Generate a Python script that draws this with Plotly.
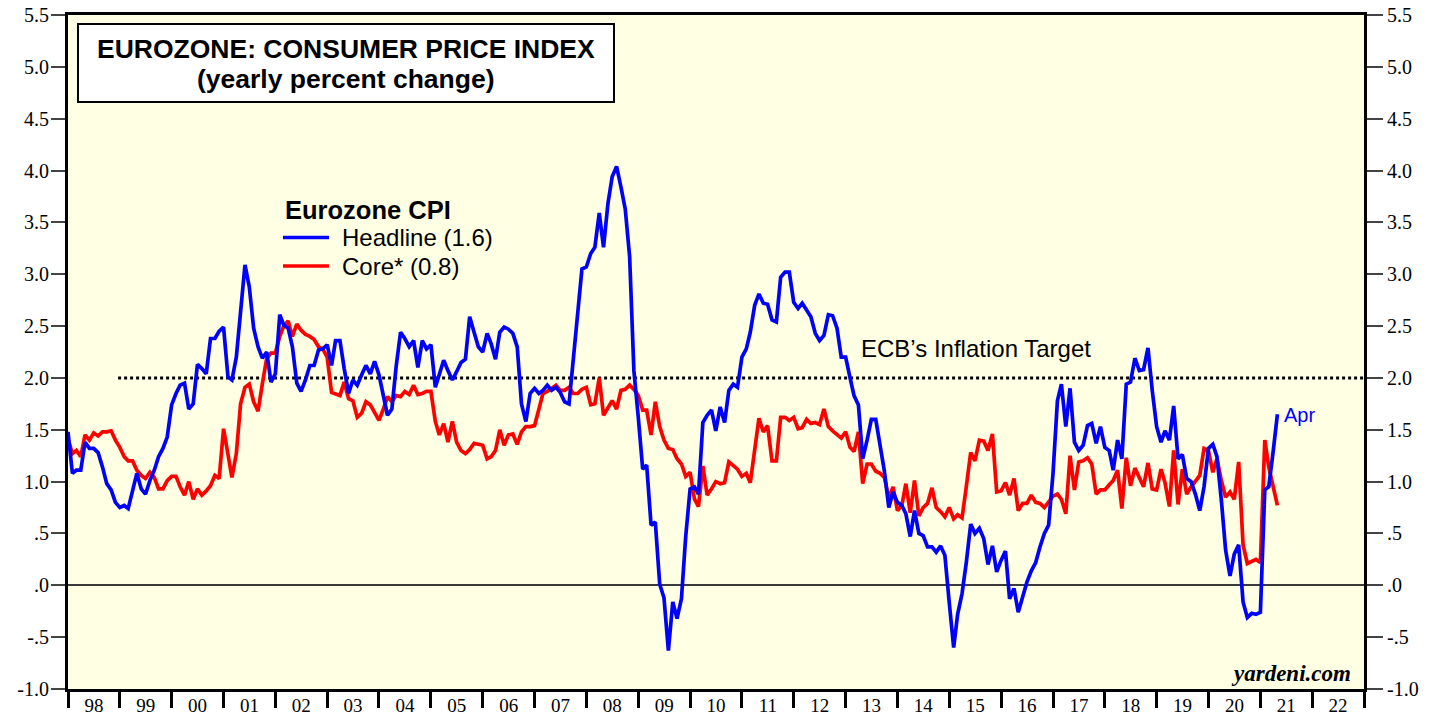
import pandas as pd
import plotly.graph_objects as go

# ---------------- data (monthly, Dec 1997 .. Apr 2021, yearly % change) ----------------
start_month = "1997-12"
headline = [
    1.48,
    1.08, 1.11, 1.11, 1.38, 1.32, 1.32, 1.28, 1.14, 0.98, 0.92, 0.80, 0.75,   # 1998
    0.77, 0.74, 0.93, 1.08, 0.93, 0.88, 1.01, 1.11, 1.24, 1.32, 1.43, 1.74,   # 1999
    1.85, 1.93, 1.95, 1.70, 1.75, 2.13, 2.09, 2.04, 2.38, 2.38, 2.45, 2.49,   # 2000
    2.01, 1.98, 2.20, 2.65, 3.09, 2.88, 2.48, 2.30, 2.19, 2.25, 1.96, 2.04,   # 2001
    2.61, 2.51, 2.48, 2.30, 1.95, 1.87, 1.98, 2.12, 2.12, 2.27, 2.28, 2.32,   # 2002
    2.12, 2.36, 2.36, 2.09, 1.85, 1.98, 1.93, 2.03, 2.12, 2.04, 2.16, 2.03,   # 2003
    1.83, 1.64, 1.70, 2.11, 2.44, 2.38, 2.30, 2.36, 2.10, 2.36, 2.28, 2.32,   # 2004
    1.91, 2.04, 2.17, 2.07, 1.98, 2.06, 2.15, 2.18, 2.59, 2.44, 2.30, 2.25,   # 2005
    2.43, 2.33, 2.18, 2.44, 2.49, 2.47, 2.43, 2.30, 1.75, 1.58, 1.85, 1.90,   # 2006
    1.85, 1.88, 1.93, 1.88, 1.91, 1.86, 1.77, 1.75, 2.17, 2.59, 3.05, 3.07,   # 2007
    3.20, 3.26, 3.59, 3.26, 3.68, 3.94, 4.04, 3.84, 3.63, 3.17, 2.07, 1.62,   # 2008
    1.12, 1.16, 0.58, 0.61, 0.01, -0.12, -0.63, -0.16, -0.32, -0.13, 0.47, 0.93,  # 2009
    0.95, 0.88, 1.57, 1.64, 1.69, 1.49, 1.72, 1.57, 1.88, 1.94, 1.91, 2.20,   # 2010
    2.28, 2.44, 2.70, 2.81, 2.72, 2.71, 2.56, 2.54, 2.97, 3.02, 3.02, 2.73,   # 2011
    2.67, 2.72, 2.65, 2.59, 2.43, 2.36, 2.41, 2.61, 2.60, 2.48, 2.20, 2.20,   # 2012
    2.00, 1.83, 1.74, 1.22, 1.40, 1.60, 1.60, 1.35, 1.10, 0.75, 0.90, 0.80,   # 2013
    0.77, 0.69, 0.47, 0.72, 0.50, 0.48, 0.37, 0.37, 0.32, 0.38, 0.29, -0.17,  # 2014
    -0.60, -0.28, -0.08, 0.22, 0.59, 0.50, 0.55, 0.45, 0.20, 0.38, 0.13, 0.24,  # 2015
    0.33, -0.13, -0.03, -0.26, -0.11, 0.03, 0.14, 0.22, 0.37, 0.50, 0.58, 1.08,  # 2016
    1.78, 1.94, 1.53, 1.90, 1.38, 1.30, 1.35, 1.54, 1.56, 1.37, 1.53, 1.33,   # 2017
    1.30, 1.11, 1.40, 1.22, 1.94, 1.96, 2.19, 2.07, 2.08, 2.29, 1.88, 1.53,   # 2018
    1.38, 1.49, 1.40, 1.73, 1.22, 1.26, 1.03, 1.00, 0.88, 0.72, 0.95, 1.32,   # 2019
    1.36, 1.24, 0.82, 0.34, 0.09, 0.30, 0.39, -0.16, -0.31, -0.27, -0.28, -0.26,  # 2020
    0.92, 0.95, 1.29, 1.65,                                                   # 2021
]
core = [
    1.41,
    1.27, 1.30, 1.24, 1.45, 1.40, 1.47, 1.44, 1.48, 1.48, 1.49, 1.40, 1.33,   # 1998
    1.24, 1.20, 1.20, 1.11, 1.06, 1.03, 1.09, 1.04, 0.93, 0.93, 1.01, 1.05,   # 1999
    1.05, 0.95, 0.87, 1.00, 0.83, 0.93, 0.87, 0.91, 0.96, 1.06, 1.03, 1.51,   # 2000
    1.27, 1.04, 1.27, 1.75, 1.91, 1.94, 1.77, 1.68, 1.94, 2.19, 2.24, 2.24,   # 2001
    2.40, 2.50, 2.55, 2.40, 2.52, 2.46, 2.42, 2.40, 2.37, 2.30, 2.28, 2.20,   # 2002
    1.86, 1.85, 1.83, 1.96, 1.80, 1.78, 1.62, 1.66, 1.77, 1.74, 1.67, 1.59,   # 2003
    1.70, 1.82, 1.77, 1.83, 1.82, 1.87, 1.84, 1.93, 1.84, 1.85, 1.87, 1.87,   # 2004
    1.58, 1.45, 1.56, 1.38, 1.58, 1.38, 1.30, 1.27, 1.31, 1.37, 1.36, 1.35,   # 2005
    1.22, 1.24, 1.30, 1.50, 1.35, 1.45, 1.46, 1.36, 1.48, 1.53, 1.53, 1.54,   # 2006
    1.70, 1.85, 1.87, 1.90, 1.93, 1.88, 1.88, 1.91, 1.85, 1.85, 1.89, 1.91,   # 2007
    1.74, 1.75, 2.00, 1.64, 1.71, 1.78, 1.70, 1.88, 1.89, 1.93, 1.89, 1.83,   # 2008
    1.69, 1.69, 1.45, 1.77, 1.53, 1.40, 1.32, 1.31, 1.22, 1.17, 1.05, 1.09,   # 2009
    0.83, 0.76, 1.15, 0.87, 0.93, 1.00, 0.98, 0.99, 1.19, 1.16, 1.12, 1.05,   # 2010
    1.08, 0.99, 1.29, 1.61, 1.48, 1.54, 1.20, 1.20, 1.62, 1.62, 1.59, 1.62,   # 2011
    1.51, 1.52, 1.60, 1.56, 1.57, 1.55, 1.70, 1.53, 1.49, 1.46, 1.42, 1.48,   # 2012
    1.33, 1.29, 1.48, 0.98, 1.17, 1.17, 1.10, 1.08, 1.04, 0.84, 0.95, 0.72,   # 2013
    0.77, 0.98, 0.70, 1.01, 0.67, 0.75, 0.79, 0.94, 0.75, 0.71, 0.66, 0.75,   # 2014
    0.64, 0.68, 0.65, 0.95, 1.28, 1.20, 1.40, 1.39, 1.30, 1.46, 0.90, 0.91,   # 2015
    0.99, 0.87, 1.03, 0.72, 0.79, 0.79, 0.87, 0.80, 0.79, 0.75, 0.80, 0.86,   # 2016
    0.88, 0.83, 0.69, 1.25, 0.92, 1.19, 1.20, 1.23, 1.17, 0.88, 0.92, 0.92,   # 2017
    0.97, 1.01, 1.11, 0.74, 1.23, 0.96, 1.13, 1.04, 0.95, 1.18, 0.93, 0.92,   # 2018
    1.12, 0.99, 0.76, 1.30, 0.78, 1.12, 0.88, 0.95, 1.01, 1.06, 1.32, 1.30,   # 2019
    1.09, 1.22, 1.01, 0.85, 0.90, 0.83, 1.19, 0.39, 0.21, 0.23, 0.25, 0.22,   # 2020
    1.40, 1.14, 0.96, 0.77,                                                   # 2021
]
y_tick_vals = [-1.0, -0.5, 0.0, 0.5, 1.0, 1.5, 2.0, 2.5, 3.0, 3.5, 4.0, 4.5, 5.0, 5.5]
y_tick_text = ["-1.0", "-.5", ".0", ".5", "1.0", "1.5", "2.0", "2.5", "3.0", "3.5",
               "4.0", "4.5", "5.0", "5.5"]
ecb_target = 2.0
latest_label = "Apr"

# each monthly observation is plotted at the end of its month
months = pd.period_range(start_month, periods=len(headline), freq="M")
dates = [p.end_time.normalize() + pd.Timedelta(days=1) for p in months]

# ---------------- layout helpers ----------------
W, H = 1439, 717
L, R, T, B = 68, 1364, 15, 689        # plot area in window pixels


def px(x):
    return (x - L) / (R - L)


def py(y):
    return (B - y) / (B - T)


SANS = "Liberation Sans, Arial, sans-serif"
SERIF = "Liberation Serif, Times New Roman, serif"
BLUE = "#0000FF"
RED = "#FF0000"

fig = go.Figure()
fig.add_trace(go.Scatter(x=dates, y=core, mode="lines", name="Core* (0.8)",
                         line=dict(color=RED, width=3.7), showlegend=False))
fig.add_trace(go.Scatter(x=dates, y=headline, mode="lines", name="Headline (1.6)",
                         line=dict(color=BLUE, width=3.7), showlegend=False))
# invisible trace to carry the right-hand axis
fig.add_trace(go.Scatter(x=[dates[0]], y=[None], yaxis="y2", showlegend=False,
                         hoverinfo="skip"))

yaxis_common = dict(
    range=[-1.0, 5.5], autorange=False, automargin=False,
    tickmode="array", tickvals=y_tick_vals, ticktext=y_tick_text,
    ticks="outside", tickwidth=2, tickcolor="#444444",
    tickfont=dict(family=SERIF, size=20, color="black"),
    ticklabeloverflow="allow",
    showgrid=False, showline=True, linecolor="black", linewidth=3,
)

fig.update_layout(
    width=W, height=H,
    margin=dict(l=L, r=W - R, t=T, b=H - B, autoexpand=False),
    paper_bgcolor="white",
    plot_bgcolor="#FFFFE3",
    showlegend=False,
    xaxis=dict(
        type="date", automargin=False,
        range=["1998-01-01", "2023-01-01"],
        tick0="1998-01-01", dtick="M12", tickformat="%y",
        ticklabelmode="period",
        ticks="outside", ticklen=16, tickwidth=3, tickcolor="black",
        tickfont=dict(family=SERIF, size=19, color="black"),
        ticklabelstandoff=-19,
        showgrid=False, showline=True, linecolor="black", linewidth=3,
        mirror=True,
    ),
    yaxis=dict(**yaxis_common, ticklen=14, ticklabelstandoff=-2,
               zeroline=True, zerolinecolor="#3a3a3a", zerolinewidth=2),
    yaxis2=dict(**yaxis_common, ticklen=16, ticklabelstandoff=0,
                overlaying="y", side="right", zeroline=False),
)

# ECB inflation target (dotted line at 2%)
fig.add_shape(type="line", xref="x", yref="y",
              x0="1998-12-20", x1="2023-01-01", y0=ecb_target, y1=ecb_target,
              line=dict(color="black", width=3, dash="dot"), layer="below")
fig.add_annotation(x="2015-07-08", y=ecb_target, xref="x", yref="y",
                   text="ECB\u2019s Inflation Target", showarrow=False,
                   yanchor="bottom", yshift=14,
                   font=dict(family=SANS, size=24, color="black"))

# title box
fig.add_shape(type="rect", xref="paper", yref="paper",
              x0=px(78), x1=px(614), y0=py(102), y1=py(24),
              line=dict(color="black", width=2), fillcolor="white", layer="above")
fig.add_annotation(x=px(346), y=py(49), xref="paper", yref="paper",
                   text="<b>EUROZONE: CONSUMER PRICE INDEX</b>", showarrow=False,
                   xanchor="center", yanchor="middle",
                   font=dict(family=SANS, size=26.5, color="black"))
fig.add_annotation(x=px(346), y=py(79), xref="paper", yref="paper",
                   text="<b>(yearly percent change)</b>", showarrow=False,
                   xanchor="center", yanchor="middle",
                   font=dict(family=SANS, size=26.5, color="black"))

# legend
fig.add_annotation(x=px(283), y=py(209.5), xref="paper", yref="paper",
                   text="<b>Eurozone CPI</b>", showarrow=False,
                   xanchor="left", yanchor="middle",
                   font=dict(family=SANS, size=25.5, color="black"))
for ypix, color, label in [(237.5, BLUE, "Headline (1.6)"), (266, RED, "Core* (0.8)")]:
    fig.add_shape(type="line", xref="paper", yref="paper",
                  x0=px(283), x1=px(329), y0=py(ypix), y1=py(ypix),
                  line=dict(color=color, width=3.7))
    fig.add_annotation(x=px(340), y=py(ypix), xref="paper", yref="paper",
                       text=label, showarrow=False, xanchor="left", yanchor="middle",
                       font=dict(family=SANS, size=24, color="black"))

# latest month label
fig.add_annotation(x=dates[-1], y=headline[-1], xref="x", yref="y",
                   text=latest_label, showarrow=False, xanchor="left",
                   yanchor="middle", xshift=5, yshift=-1,
                   font=dict(family=SANS, size=20, color=BLUE))

# source
fig.add_annotation(x=px(1353), y=py(673), xref="paper", yref="paper",
                   text="<b><i>yardeni.com</i></b>", showarrow=False,
                   xanchor="right", yanchor="middle",
                   font=dict(family=SERIF, size=23, color="black"))

# let the figure fill the window exactly (no default page margin), no modebar
fig.write_html("out.html",
               config={"displayModeBar": False},
               post_script="document.body.style.margin='0';"
                           "document.body.style.overflow='hidden';")
